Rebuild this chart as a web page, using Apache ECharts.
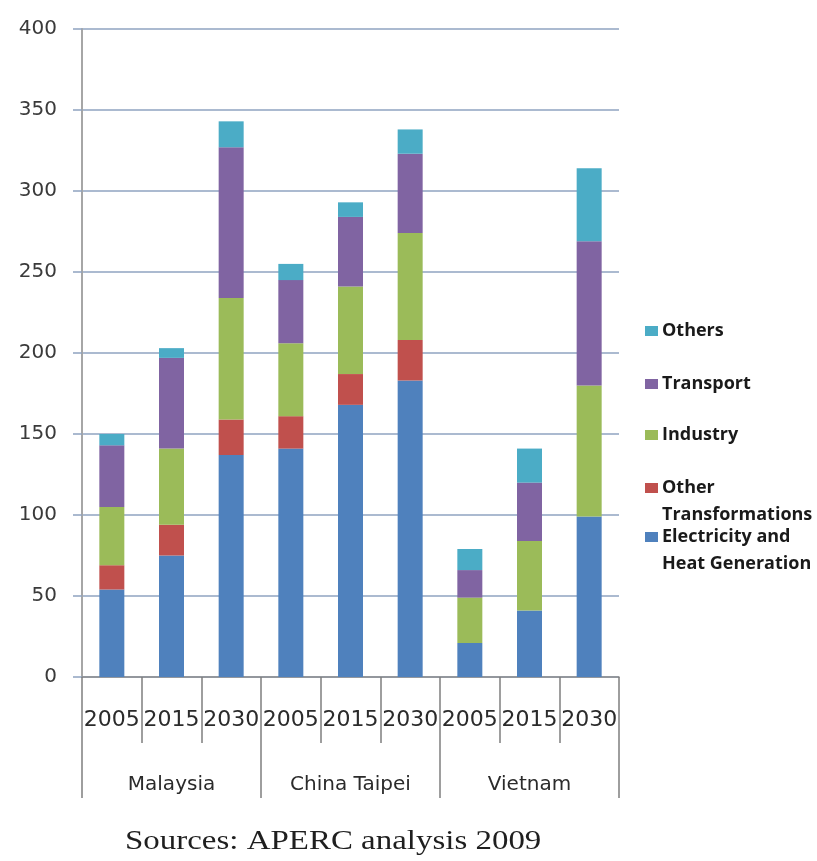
<!DOCTYPE html>
<html>
<head>
<meta charset="utf-8">
<title>Energy demand by sector</title>
<script src="https://cdn.jsdelivr.net/npm/echarts@6/dist/echarts.min.js"></script>
<style>
  html, body { margin: 0; padding: 0; background: #ffffff; }
  #chart { width: 817px; height: 861px; }
</style>
</head>
<body>
<div id="chart"></div>
<script>
// Categories: three economies, three years each
const years = ['2005', '2015', '2030', '2005', '2015', '2030', '2005', '2015', '2030'];
const countries = ['Malaysia', 'China Taipei', 'Vietnam'];

// Stacked sector values, bottom to top
const electricity = [54, 75, 137, 141, 168, 183, 21, 41, 99];
const otherTransformations = [15, 19, 22, 20, 19, 25, 0, 0, 0];
const industry = [36, 47, 75, 45, 54, 66, 28, 43, 81];
const transport = [38, 56, 93, 39, 43, 49, 17, 36, 89];
const others = [7, 6, 16, 10, 9, 15, 13, 21, 45];

const yTicks = { min: 0, max: 400, step: 50 };

const sectors = [
  { name: 'Electricity and Heat Generation', data: electricity, color: '#4F81BD', lines: ['Electricity and', 'Heat Generation'] },
  { name: 'Other Transformations', data: otherTransformations, color: '#C0504D', lines: ['Other', 'Transformations'] },
  { name: 'Industry', data: industry, color: '#9BBB59', lines: ['Industry'] },
  { name: 'Transport', data: transport, color: '#8064A2', lines: ['Transport'] },
  { name: 'Others', data: others, color: '#4BACC6', lines: ['Others'] }
];

// Legend rows (top to bottom), centre y of the first text line
const legendRows = [
  { name: 'Others', y: 333 },
  { name: 'Transport', y: 386 },
  { name: 'Industry', y: 437 },
  { name: 'Other Transformations', y: 490 },
  { name: 'Electricity and Heat Generation', y: 539 }
];
const legendLeft = 645;
const legendFont = { fontFamily: 'Open Sans', fontWeight: 'bold', fontSize: 18, color: '#1a1a1a' };

const chart = echarts.init(document.getElementById('chart'), null, { renderer: 'canvas' });

const legends = legendRows.map(function (row) {
  const s = sectors.find(function (x) { return x.name === row.name; });
  return {
    data: [row.name],
    orient: 'vertical',
    left: legendLeft,
    top: row.y - 11,
    itemWidth: 13,
    itemHeight: 10,
    itemGap: 0,
    padding: 0,
    selectedMode: false,
    icon: 'rect',
    formatter: function () { return s.lines[0]; },
    textStyle: Object.assign({ padding: [0, 0, 0, -1] }, legendFont)
  };
});

// Second lines of the two-line legend entries
const legendSecondLines = [];
legendRows.forEach(function (row) {
  const s = sectors.find(function (x) { return x.name === row.name; });
  if (s.lines.length > 1) {
    legendSecondLines.push({
      type: 'text',
      x: legendLeft + 17,
      y: row.y + 25,
      silent: true,
      style: {
        text: s.lines[1],
        fontFamily: legendFont.fontFamily,
        fontWeight: legendFont.fontWeight,
        fontSize: legendFont.fontSize,
        fill: legendFont.color,
        verticalAlign: 'middle',
        align: 'left'
      }
    });
  }
});

const option = {
  animation: false,
  backgroundColor: '#ffffff',
  grid: { left: 82, right: 198, top: 29, bottom: 184, containLabel: false },
  legend: legends,
  xAxis: [
    {
      type: 'category',
      position: 'bottom',
      data: years,
      axisLine: { show: true, lineStyle: { color: '#8C8C8C', width: 1.5 } },
      axisTick: { show: true, interval: 0, length: 66, lineStyle: { color: '#7F7F7F', width: 1.5 } },
      axisLabel: { interval: 0, margin: 32, fontFamily: 'DejaVu Sans', fontSize: 22, color: '#2b2b2b' },
      splitLine: { show: false }
    },
    {
      type: 'category',
      position: 'bottom',
      data: countries,
      axisLine: { show: false },
      axisTick: { show: true, interval: 0, length: 121, lineStyle: { color: '#7F7F7F', width: 1.5 } },
      axisLabel: { interval: 0, margin: 98, fontFamily: 'DejaVu Sans', fontSize: 20, color: '#2b2b2b' },
      splitLine: { show: false }
    }
  ],
  yAxis: {
    type: 'value',
    min: yTicks.min,
    max: yTicks.max,
    interval: yTicks.step,
    axisLine: { show: true, lineStyle: { color: '#A6A6A6', width: 2 } },
    axisTick: { show: true, length: 9, lineStyle: { color: '#8FA3C0', width: 1.5 } },
    axisLabel: { margin: 25, fontFamily: 'DejaVu Sans', fontSize: 20, color: '#3a3a3a' },
    splitLine: { show: true, lineStyle: { color: '#8FA3C0', width: 1.5 } }
  },
  series: sectors.map(function (s) {
    return {
      name: s.name,
      type: 'bar',
      stack: 'total',
      xAxisIndex: 0,
      barWidth: 25,
      data: s.data,
      itemStyle: { color: s.color },
      emphasis: { disabled: true }
    };
  }),
  graphic: legendSecondLines.concat([
    {
      type: 'text',
      x: 125,
      y: 842,
      scaleX: 1.22,
      silent: true,
      style: {
        text: 'Sources: APERC analysis 2009',
        fontFamily: 'Liberation Serif',
        fontSize: 27,
        fill: '#1f1f1f',
        verticalAlign: 'middle',
        align: 'left'
      }
    }
  ])
};

chart.setOption(option);
</script>
</body>
</html>
